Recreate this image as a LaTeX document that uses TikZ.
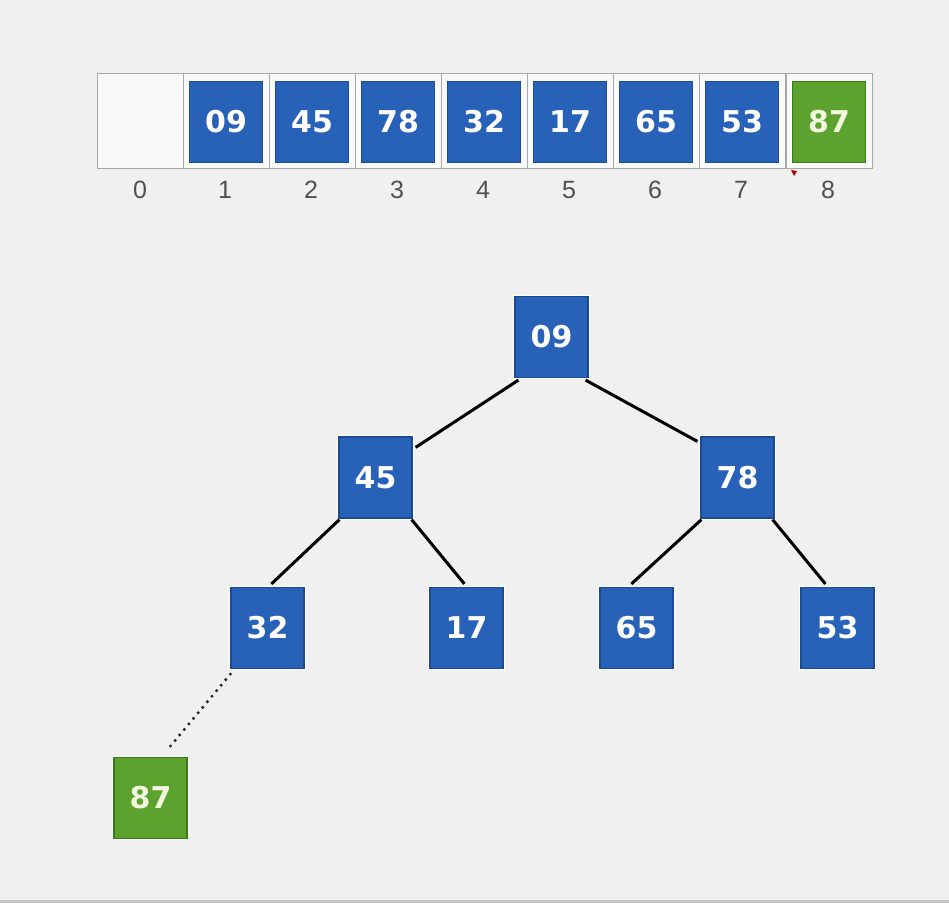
\documentclass[tikz,border=0pt]{standalone}
\usepackage{fontspec}
\setmainfont{Liberation Sans}
\newfontfamily\numfont{DejaVu Sans}
\definecolor{bgc}{HTML}{F0F0F0}
\definecolor{bluefill}{HTML}{2761B8}
\definecolor{blueedge}{HTML}{1B4A8F}
\definecolor{greenfill}{HTML}{5BA22F}
\definecolor{greenedge}{HTML}{3B7A1B}
\definecolor{greentext}{HTML}{F2F7DE}
\definecolor{cellfill}{HTML}{F9F9F9}
\definecolor{celledge}{HTML}{A8A8A8}
\definecolor{idxc}{HTML}{505050}
\begin{document}
\begin{tikzpicture}[x=1pt,y=-1pt,
  boxbase/.style={rectangle, inner sep=0pt, minimum width=73pt, minimum height=81pt,
     line width=1.2pt, font=\numfont\bfseries\fontsize{30}{30}\selectfont,
     preaction={draw=white, line width=3.4pt}},
  bluebox/.style={boxbase, fill=bluefill, draw=blueedge, text=white},
  greenbox/.style={boxbase, fill=greenfill, draw=greenedge, text=greentext},
  cellbox/.style={rectangle, inner sep=0pt, minimum width=86pt, minimum height=95pt,
     fill=cellfill, draw=celledge, line width=1pt},
  idx/.style={font=\fontsize{25}{25}\selectfont, text=idxc, inner sep=0pt},
  edge/.style={line width=3pt, black},
  dotedge/.style={line width=3.4pt, black!85, line cap=round, dash pattern=on 0pt off 7.2pt}]
\fill[bgc] (0,0) rectangle (949,903);
\useasboundingbox (0,0) rectangle (949,903);
\fill[black!22] (0,900) rectangle (949,903);
% array
\foreach \i/\x in {0/140,1/226,2/312,3/398,4/484,5/570,6/656,7/742,8/829}{
  \node[cellbox] (c\i) at (\x,120.5) {};
}
\node[bluebox] (a1) at (226,122) {09};
\node[bluebox] (a2) at (312,122) {45};
\node[bluebox] (a3) at (398,122) {78};
\node[bluebox] (a4) at (484,122) {32};
\node[bluebox] (a5) at (570,122) {17};
\node[bluebox] (a6) at (656,122) {65};
\node[bluebox] (a7) at (742,122) {53};
\node[greenbox] (a8) at (829,122) {87};
\foreach \i/\x in {0/140,1/225,2/311,3/397,4/483,5/569,6/655,7/741,8/828}{
  \node[idx] (l\i) at (\x,190) {\i};
}
\fill[red!65!black] (791,170) -- (797,171) -- (794,176) -- cycle;
% tree
\node[bluebox] (n09) at (551.5,337) {09};
\node[bluebox] (n45) at (375.5,477.5) {45};
\node[bluebox] (n78) at (737.5,477.5) {78};
\node[bluebox] (n32) at (267.5,628) {32};
\node[bluebox] (n17) at (466.5,628) {17};
\node[bluebox] (n65) at (636.5,628) {65};
\node[bluebox] (n53) at (837.5,628) {53};
\node[greenbox] (n87) at (150.5,798) {87};
\draw[edge] ([shift={(4,2)}]n09.south west) -- ([shift={(3,11)}]n45.north east);
\draw[edge] ([shift={(-3,2)}]n09.south east) -- ([shift={(-3,5)}]n78.north west);
\draw[edge] ([shift={(1,1)}]n45.south west) -- ([shift={(41,-3)}]n32.north west);
\draw[edge] ([shift={(-1,1)}]n45.south east) -- ([shift={(35,-3)}]n17.north west);
\draw[edge] ([shift={(1,1)}]n78.south west) -- ([shift={(32,-3)}]n65.north west);
\draw[edge] ([shift={(-2,1)}]n78.south east) -- ([shift={(25,-3)}]n53.north west);
\draw[dotedge] ([shift={(0,5)}]n32.south west) -- ([shift={(53,-6)}]n87.north west);
\end{tikzpicture}
\end{document}
